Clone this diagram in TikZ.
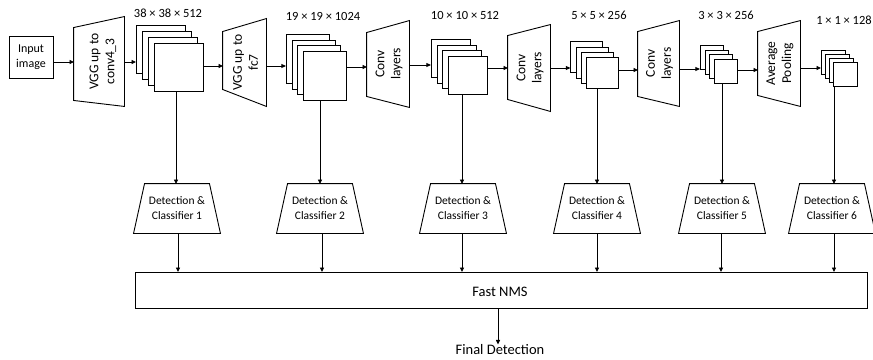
\documentclass[tikz,border=0pt]{standalone}
\usepackage{fontspec}
\setmainfont{Carlito}
\usetikzlibrary{arrows.meta,calc}
\newcommand\mkstack[6]{% name, x, y (front top-left), w, h, offset
  \node[sqbox, minimum width=#4pt, minimum height=#5pt] (#1b) at ({#2-#6*3},{#3-#6*3}) {};
  \foreach \k in {2,1}{
    \node[sqbox, minimum width=#4pt, minimum height=#5pt] at ({#2-#6*\k},{#3-#6*\k}) {};
  }
  \node[sqbox, minimum width=#4pt, minimum height=#5pt] (#1) at (#2,#3) {};
}
\newcommand\mktrap[9]{% name, cx, cy, w, h, dt, db, text, text shift
  \node[inner sep=0, minimum width=#4pt, minimum height=#5pt] (#1) at (#2,#3) {};
  \draw (#1.north east) -- (#1.south east) -- ([yshift=#7pt]#1.south west) -- ([yshift=-#6pt]#1.north west) -- cycle;
  \node[trtext] (#1txt) at ([xshift=#9pt]#1.center) {#8};
}
\newcommand\mkdet[3]{% name, cx, text
  \node[dettext, minimum width=86pt, minimum height=49pt] (#1) at (#2,208.5) {#3};
  \draw ([xshift=11pt]#1.north west) -- ([xshift=-11pt]#1.north east) -- (#1.south east) -- (#1.south west) -- cycle;
}
\begin{document}
\begin{tikzpicture}[x=1pt,y=-1pt, line width=0.9pt,
  sqbox/.style={draw, fill=white, inner sep=0, anchor=north west},
  arr/.style={-{Triangle[length=4.5pt,width=4pt]}},
  trtext/.style={rotate=90, align=center, font=\fontsize{13.5}{16}\selectfont, inner sep=0},
  dettext/.style={align=center, font=\fontsize{11.5}{15}\selectfont, inner sep=0, text depth=0pt},
  dimtext/.style={font=\fontsize{12.5}{14}\selectfont, inner sep=0},
  bigtext/.style={font=\fontsize{14.5}{16}\selectfont, inner sep=0}]
\useasboundingbox (0,0) rectangle (873,359);

% input
\node[draw, align=center, minimum width=44pt, minimum height=42pt, inner sep=0,
  font=\fontsize{12}{15}\selectfont] (inp) at (31,57) {Input\\image};

% trapezoids
\mktrap{T1}{99}{61.5}{50}{89}{11}{6}{VGG up to\\conv4\_3}{4}
\mktrap{T2}{244.5}{62.5}{43}{87}{13}{17}{VGG up to\\fc7}{1}
\mktrap{T3}{388}{64}{42}{86}{12}{11}{Conv\\layers}{1}
\mktrap{T4}{529}{68}{42}{86}{11}{12}{Conv\\layers}{1}
\mktrap{T5}{658.5}{63.5}{41}{85}{11}{10}{Conv\\layers}{1}
\mktrap{T6}{779}{63.5}{42}{85}{11}{11}{Average\\Pooling}{1}

\coordinate (T1w) at (74,62);  \coordinate (T1e) at (124,62);
\coordinate (T2w) at (223,66); \coordinate (T2e) at (266,66);
\coordinate (T3w) at (367,67); \coordinate (T3e) at (409,65);
\coordinate (T4w) at (508,68); \coordinate (T4e) at (550,68);
\coordinate (T5w) at (638,70); \coordinate (T5e) at (679,69);
\coordinate (T6w) at (758,70); \coordinate (T6e) at (800,68);

% stacks
\mkstack{S1}{154}{43}{49}{48}{6}
\mkstack{S2}{303}{51}{43}{49}{5.7}
\mkstack{S3}{448}{56}{39}{38}{5.7}
\mkstack{S4}{586}{57}{32}{31}{5.2}
\mkstack{S5}{714}{59}{23}{24}{4.7}
\mkstack{S6}{833}{62}{24}{24}{4}

% dimension labels
\node[dimtext] (L1) at (168,13) {38 × 38 × 512};
\node[dimtext] (L2) at (323,16) {19 × 19 × 1024};
\node[dimtext] (L3) at (465,15) {10 × 10 × 512};
\node[dimtext] (L4) at (599,15) {5 × 5 × 256};
\node[dimtext] (L5) at (726,15) {3 × 3 × 256};
\node[dimtext] (L6) at (844,20) {1 × 1 × 128};

% horizontal arrows
\draw[arr] (inp.east |- T1w) -- (T1w);
\draw[arr] (T1e) -- (T1e -| S1b.west);
\draw[arr] (S1.east |- T2w) -- (T2w);
\draw[arr] (T2e) -- (T2e -| S2b.west);
\draw[arr] (S2.east |- T3w) -- (T3w);
\draw[arr] (T3e) -- (T3e -| S3b.west);
\draw[arr] (S3.east |- T4w) -- (T4w);
\draw[arr] (T4e) -- (T4e -| S4b.west);
\draw[arr] (S4.east |- T5w) -- (T5w);
\draw[arr] (T5e) -- (T5e -| S5b.west);
\draw[arr] (S5.east |- T6w) -- (T6w);
\draw[arr] (T6e) -- (T6e -| S6b.west);

% detection blocks
\mkdet{D1}{177}{Detection \&\\Classifier 1}
\mkdet{D2}{320}{Detection \&\\Classifier 2}
\mkdet{D3}{463}{Detection \&\\Classifier 3}
\mkdet{D4}{597}{Detection \&\\Classifier 4}
\mkdet{D5}{722}{Detection \&\\Classifier 5}
\mkdet{D6}{832}{Detection \&\\Classifier 6}

% NMS
\node[draw, minimum width=732pt, minimum height=36pt, inner sep=0, anchor=north west] (nms) at (135,272) {};
\node[bigtext] (nmst) at (500,292) {Fast NMS};
\node[bigtext] (fin) at (500,350) {Final Detection};

% vertical arrows
\draw[arr] (S1.south -| 176,0) -- (176,184);
\draw[arr] (S2.south -| 320,0) -- (320,184);
\draw[arr] (S3.south -| 462,0) -- (462,184);
\draw[arr] (S4.south -| 597,0) -- (597,184);
\draw[arr] (S5.south -| 722,0) -- (722,184);
\draw[arr] (S6.south -| 834,0) -- (834,184);

\draw[arr] (D1.south -| 178,0) -- (178,272);
\draw[arr] (D2.south -| 322,0) -- (322,272);
\draw[arr] (D3.south -| 462,0) -- (462,272);
\draw[arr] (D4.south -| 597,0) -- (597,272);
\draw[arr] (D5.south -| 721,0) -- (721,272);
\draw[arr] (D6.south -| 834,0) -- (834,272);

\draw[arr] (nms.south -| 498,0) -- (fin.north -| 498,0);
\end{tikzpicture}
\end{document}
